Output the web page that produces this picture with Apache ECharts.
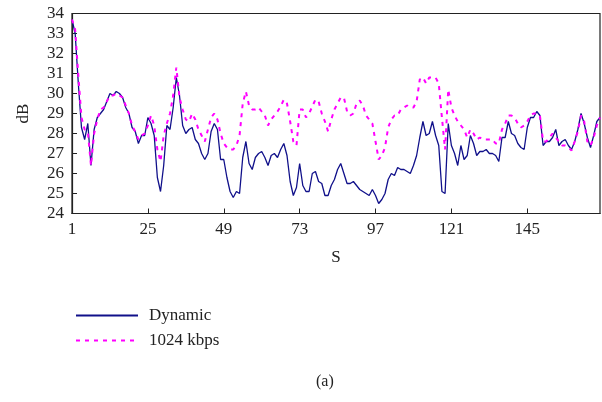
<!DOCTYPE html>
<html>
<head>
<meta charset="utf-8">
<script src="https://cdn.jsdelivr.net/npm/echarts@6/dist/echarts.min.js"></script>
<style>html,body{margin:0;padding:0;background:#fff}#c{width:602px;height:402px}</style>
</head>
<body>
<div id="c"></div>
<script>
var categories = [];
for (var k = 1; k <= 168; k++) categories.push(String(k));

var dynamic = [
33.7,33.0,30.5,28.3,27.7,28.5,26.4,28.2,28.8,29.0,
29.2,29.6,30.0,29.9,30.1,30.0,29.8,29.3,29.0,28.3,
28.1,27.5,27.9,27.9,28.8,28.5,27.9,25.8,25.1,26.4,
28.4,28.2,29.3,30.8,29.9,28.4,28.0,28.2,28.3,27.7,
27.5,27.0,26.7,27.0,28.1,28.5,28.2,26.7,26.7,25.8,
25.1,24.8,25.1,25.0,26.8,27.6,26.5,26.2,26.8,27.0,
27.1,26.8,26.4,26.9,27.0,26.8,27.2,27.5,26.9,25.6,
24.9,25.3,26.5,25.4,25.1,25.1,26.0,26.1,25.6,25.5,
24.9,24.9,25.4,25.7,26.2,26.5,26.0,25.5,25.5,25.6,
25.4,25.2,25.1,25.0,24.9,25.2,24.9,24.5,24.7,25.0,
25.7,26.0,25.9,26.3,26.2,26.2,26.1,26.0,26.4,26.9,
27.8,28.6,27.9,28.0,28.6,27.9,27.4,25.1,25.0,28.5,
27.4,27.0,26.4,27.4,26.7,26.9,27.9,27.5,26.9,27.1,
27.1,27.2,27.0,27.0,26.9,26.6,27.8,27.8,28.6,28.0,
27.9,27.5,27.3,27.2,28.3,28.8,28.8,29.1,28.9,27.4,
27.6,27.6,27.8,28.2,27.4,27.6,27.7,27.4,27.2,27.6,
28.2,29.0,28.5,27.8,27.3,27.9,28.6,28.8
];

var kbps1024 = [
33.7,33.2,30.9,28.8,28.2,28.1,26.4,28.0,28.7,29.2,
29.3,29.6,29.9,29.9,30.0,29.9,29.8,29.4,29.0,28.4,
28.1,27.7,27.9,28.0,28.4,28.9,28.4,27.2,26.6,27.9,
28.5,29.0,29.9,31.3,29.8,29.2,28.7,28.6,29.0,28.7,
28.2,27.9,27.6,28.2,28.8,29.0,28.7,28.0,27.5,27.3,
27.2,27.2,27.4,27.9,29.5,30.1,29.4,29.2,29.2,29.3,
29.1,28.9,28.4,28.7,28.9,29.1,29.35,29.7,29.5,28.6,
27.6,27.4,29.2,29.2,28.8,29.0,29.35,29.7,29.6,29.0,
28.6,28.1,28.7,29.2,29.5,29.8,29.8,29.1,28.9,29.0,
29.5,29.65,29.4,28.9,28.7,28.5,27.6,26.7,26.9,27.3,
28.3,28.7,28.9,28.9,29.2,29.3,29.4,29.3,29.3,29.6,
30.7,30.8,30.5,30.8,30.8,30.8,30.5,28.8,27.2,30.2,
29.3,28.9,28.6,28.4,28.2,27.8,28.2,28.0,27.7,27.8,
27.7,27.7,27.7,27.7,27.5,27.5,28.2,28.5,28.9,28.9,
28.8,28.5,28.3,28.4,28.6,28.9,29.0,29.0,28.9,27.6,
27.6,27.8,28.0,27.8,27.6,27.4,27.4,27.3,27.15,27.6,
28.1,28.9,28.6,27.6,27.4,27.8,28.4,28.8
];

var font = '"Liberation Serif", "DejaVu Serif", serif';
var chart = echarts.init(document.getElementById('c'), null, {renderer: 'canvas'});
chart.setOption({
  animation: false,
  backgroundColor: '#fff',
  grid: {left: 72, right: 2, top: 13.5, bottom: 188.5, show: true, borderColor: '#222', borderWidth: 1.2, containLabel: false},
  legend: {
    orient: 'vertical', left: 70, top: 302,
    itemWidth: 62, itemHeight: 14, itemGap: 8,
    itemStyle: {opacity: 0},
    textStyle: {fontFamily: font, fontSize: 17, color: '#222', padding: [0, 0, 0, 6]},
    data: ['Dynamic', '1024 kbps']
  },
  graphic: [{type: 'text', left: 316, top: 374, style: {text: '(a)', font: '16px ' + font, fill: '#222'}}],
  xAxis: {
    type: 'category', data: categories, boundaryGap: false,
    name: 'S', nameLocation: 'middle', nameGap: 36,
    nameTextStyle: {fontFamily: font, fontSize: 17, color: '#222'},
    axisLine: {lineStyle: {color: '#222', width: 1.2}},
    axisTick: {inside: true, interval: 23, length: 5, lineStyle: {color: '#222'}},
    axisLabel: {interval: 23, fontFamily: font, fontSize: 17, color: '#222', margin: 8},
    splitLine: {show: false}
  },
  yAxis: {
    type: 'value', min: 24, max: 34, interval: 1,
    name: 'dB', nameLocation: 'middle', nameGap: 40, nameRotate: 90,
    nameTextStyle: {fontFamily: font, fontSize: 17, color: '#222'},
    axisLine: {show: true, lineStyle: {color: '#222', width: 1.2}},
    axisTick: {show: true, inside: true, length: 5, lineStyle: {color: '#222'}},
    axisLabel: {fontFamily: font, fontSize: 17, color: '#222', margin: 8},
    splitLine: {show: false}
  },
  series: [
    {name: 'Dynamic', type: 'line', data: dynamic, symbol: 'none', z: 2,
     lineStyle: {color: '#10108a', width: 1.3}, itemStyle: {color: '#10108a'}},
    {name: '1024 kbps', type: 'line', data: kbps1024, symbol: 'none', z: 3,
     lineStyle: {color: '#ff00ff', width: 2, type: [4, 5]}, itemStyle: {color: '#ff00ff'}}
  ]
});
</script>
</body>
</html>
